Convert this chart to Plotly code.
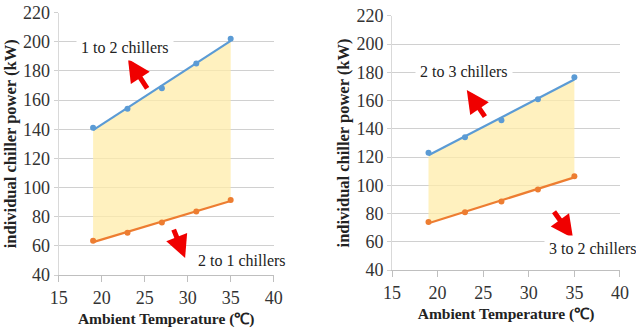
import numpy as np
import plotly.graph_objects as go

temps = [19, 23, 27, 31, 35]
left_upper = [141, 154, 168, 185, 202]
left_lower = [63.5, 69, 76, 83.5, 91.5]
right_upper = [123, 134, 146, 161, 176.5]
right_lower = [74, 81, 88.5, 97, 106.5]
x_ticks = [15, 20, 25, 30, 35, 40]
y_ticks = [40, 60, 80, 100, 120, 140, 160, 180, 200, 220]

BLUE = "#5B9BD5"
ORANGE = "#ED7D31"
FILL = "rgba(255,236,170,0.75)"
SERIF = "Liberation Serif, Times New Roman, serif"

fig = go.Figure()


def trend(y):
    c = np.polyfit(temps, y, 1)
    return list(np.polyval(c, temps))


def add_panel(upper, lower, xa, ya):
    tu, tl = trend(upper), trend(lower)
    fig.add_trace(go.Scatter(x=temps, y=tl, mode="lines", line=dict(width=0),
                             xaxis=xa, yaxis=ya, showlegend=False, hoverinfo="skip"))
    fig.add_trace(go.Scatter(x=temps, y=tu, mode="lines", line=dict(width=0),
                             fill="tonexty", fillcolor=FILL,
                             xaxis=xa, yaxis=ya, showlegend=False, hoverinfo="skip"))
    for y, t, col in [(upper, tu, BLUE), (lower, tl, ORANGE)]:
        fig.add_trace(go.Scatter(x=temps, y=t, mode="lines", line=dict(color=col, width=2.2),
                                 xaxis=xa, yaxis=ya, showlegend=False))
        fig.add_trace(go.Scatter(x=temps, y=y, mode="markers", marker=dict(color=col, size=6),
                                 xaxis=xa, yaxis=ya, showlegend=False))


add_panel(left_upper, left_lower, "x", "y")
add_panel(right_upper, right_lower, "x2", "y2")

axis_common = dict(
    range=[15, 40], tickvals=x_ticks, showgrid=False, showline=True, automargin=False,
    linecolor="#BFBFBF", linewidth=1, ticks="outside", ticklen=6, tickcolor="#BFBFBF",
    tickfont=dict(family=SERIF, size=18, color="#333333"), zeroline=False,
    title=dict(text="<b>Ambient Temperature (℃)</b>", font=dict(family=SERIF, size=15.5, color="#222"),
               standoff=6),
)
yaxis_common = dict(
    range=[40, 220], tickvals=y_ticks, showgrid=True, gridcolor="#D0D0D0", gridwidth=1,
    showline=True, linecolor="#D9D9D9", ticks="outside", ticklen=4, tickcolor="#D0D0D0",
    automargin=False,
    tickfont=dict(family=SERIF, size=18, color="#333333"), zeroline=False,
    title=dict(text="<b>individual chiller power (kW)</b>", font=dict(family=SERIF, size=16.5, color="#222"),
               standoff=2),
)

fig.update_layout(
    width=636, height=329, margin=dict(l=0, r=0, t=0, b=0, autoexpand=False),
    font=dict(family=SERIF),
    paper_bgcolor="white", plot_bgcolor="white",
    xaxis=dict(domain=[0.0923, 0.4303], anchor="y", **axis_common),
    yaxis=dict(domain=[0.164, 0.962], anchor="x", **yaxis_common),
    xaxis2=dict(domain=[0.6164, 0.9748], anchor="y2", **axis_common),
    yaxis2=dict(domain=[0.179, 0.952], anchor="x2", **yaxis_common),
)

arrows = [
    ("x", "y", 23.06, 188.1, 25.4, 166.9),
    ("x", "y", 29.7, 51.7, 28.3, 72.2),
    ("x2", "y2", 23.2, 167.4, 25.3, 147.6),
    ("x2", "y2", 34.85, 62.6, 32.65, 82.4),
]
for xa, ya, hx, hy, tx, ty in arrows:
    fig.add_annotation(x=hx, y=hy, ax=tx, ay=ty, xref=xa, yref=ya, axref=xa, ayref=ya,
                       showarrow=True, arrowhead=2, arrowsize=0.9, arrowwidth=5,
                       arrowcolor="#F00000", text="")

labels = [
    ("x", "y", 22.7, 195.7, "1 to 2 chillers"),
    ("x", "y", 36.3, 50.3, "2 to 1 chillers"),
    ("x2", "y2", 22.9, 180.9, "2 to 3 chillers"),
    ("x2", "y2", 37.0, 55.5, "3 to 2 chillers"),
]
for xa, ya, x, y, t in labels:
    fig.add_annotation(x=x, y=y, xref=xa, yref=ya, text=t, showarrow=False,
                       font=dict(family=SERIF, size=16, color="#222"),
                       bgcolor="white", borderpad=4)

fig.write_html("out.html", config={"displayModeBar": False},
               post_script="document.body.style.margin='0';document.body.style.padding='0';")
